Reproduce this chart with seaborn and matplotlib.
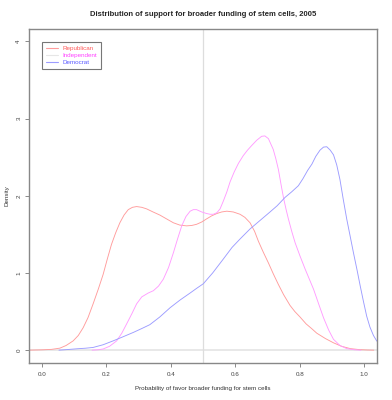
import matplotlib
matplotlib.use("Agg")
import matplotlib.pyplot as plt
import seaborn as sns
import pandas as pd

rep_x = [-0.04, 0.0, 0.03, 0.056, 0.075, 0.097, 0.113, 0.128, 0.143, 0.159, 0.175, 0.19, 0.203,
         0.216, 0.229, 0.242, 0.255, 0.268, 0.281, 0.294, 0.31, 0.325, 0.345, 0.366, 0.387, 0.408,
         0.428, 0.449, 0.465, 0.48, 0.496, 0.511, 0.527, 0.543, 0.558, 0.574, 0.594, 0.615, 0.63,
         0.646, 0.66, 0.672, 0.687, 0.703, 0.718, 0.734, 0.75, 0.77, 0.785, 0.801, 0.82, 0.837,
         0.853, 0.88, 0.905, 0.93, 0.957, 0.985, 1.01, 1.03]
rep_y = [0, 0.004, 0.01, 0.026, 0.06, 0.12, 0.19, 0.29, 0.42, 0.60, 0.79, 0.98, 1.18,
         1.37, 1.52, 1.65, 1.75, 1.82, 1.85, 1.86, 1.85, 1.83, 1.79, 1.75, 1.70, 1.65,
         1.62, 1.61, 1.615, 1.63, 1.66, 1.70, 1.74, 1.77, 1.79, 1.80, 1.79, 1.76, 1.72,
         1.65, 1.54, 1.41, 1.27, 1.13, 0.99, 0.85, 0.72, 0.58, 0.50, 0.43, 0.34, 0.28,
         0.22, 0.15, 0.095, 0.05, 0.02, 0.007, 0.002, 0]

ind_x = [0.156, 0.175, 0.19, 0.21, 0.232, 0.248, 0.263, 0.279, 0.294, 0.31, 0.33, 0.346, 0.362,
         0.377, 0.393, 0.408, 0.421, 0.434, 0.447, 0.46, 0.47, 0.48, 0.496, 0.511, 0.522, 0.532,
         0.543, 0.553, 0.563, 0.574, 0.584, 0.597, 0.61, 0.625, 0.638, 0.651, 0.667, 0.682, 0.692,
         0.703, 0.718, 0.726, 0.734, 0.742, 0.75, 0.758, 0.765, 0.776, 0.786, 0.801, 0.817, 0.83,
         0.843, 0.858, 0.874, 0.89, 0.905, 0.925, 0.946, 0.97, 0.99]
ind_y = [0, 0.005, 0.015, 0.05, 0.12, 0.22, 0.34, 0.47, 0.60, 0.69, 0.74, 0.77, 0.83,
         0.92, 1.07, 1.26, 1.44, 1.61, 1.73, 1.80, 1.82, 1.82, 1.79, 1.77, 1.76, 1.76,
         1.78, 1.83, 1.93, 2.05, 2.18, 2.31, 2.42, 2.52, 2.59, 2.65, 2.72, 2.77, 2.775,
         2.74, 2.60, 2.48, 2.34, 2.15, 1.97, 1.82, 1.70, 1.53, 1.39, 1.22, 1.05, 0.92,
         0.79, 0.61, 0.42, 0.26, 0.14, 0.06, 0.02, 0.005, 0]

dem_x = [0.053, 0.08, 0.11, 0.135, 0.159, 0.19, 0.221, 0.25, 0.284, 0.31, 0.335, 0.366, 0.398,
         0.429, 0.46, 0.48, 0.501, 0.53, 0.563, 0.59, 0.615, 0.646, 0.677, 0.708, 0.73, 0.755,
         0.775, 0.796, 0.81, 0.825, 0.838, 0.85, 0.863, 0.874, 0.884, 0.895, 0.905, 0.915, 0.925,
         0.935, 0.946, 0.957, 0.967, 0.978, 0.988, 0.998, 1.008, 1.018, 1.029, 1.039, 1.05]
dem_y = [0, 0.008, 0.018, 0.025, 0.035, 0.07, 0.12, 0.17, 0.23, 0.28, 0.33, 0.43, 0.55,
         0.65, 0.74, 0.80, 0.86, 1.00, 1.18, 1.33, 1.44, 1.57, 1.68, 1.79, 1.87, 1.98,
         2.05, 2.13, 2.22, 2.33, 2.41, 2.51, 2.59, 2.63, 2.635, 2.59, 2.53, 2.40, 2.21,
         1.96, 1.70, 1.47, 1.26, 1.04, 0.83, 0.63, 0.44, 0.30, 0.19, 0.12, 0.08]

series_names = ["Republican", "Independent", "Democrat"]
x_ticks = [0.0, 0.2, 0.4, 0.6, 0.8, 1.0]
x_tick_labels = ["0.0", "0.2", "0.4", "0.6", "0.8", "1.0"]
y_ticks = [0, 1, 2, 3, 4]
y_tick_labels = ["0", "1", "2", "3", "4"]

line_colors = {"Republican": "#ff9c9c", "Independent": "#ff9cff", "Democrat": "#9c9cff"}
text_colors = {"Republican": "#ff5a5a", "Independent": "#ff40ff", "Democrat": "#5a5aff"}

frames = []
for name, xs, ys in zip(series_names, [rep_x, ind_x, dem_x], [rep_y, ind_y, dem_y]):
    frames.append(pd.DataFrame({"x": xs, "y": ys, "party": name}))
df = pd.concat(frames, ignore_index=True)

sns.set_style("white")
plt.rcParams["font.family"] = ["Liberation Sans", "DejaVu Sans"]

fig = plt.figure(figsize=(3.92, 4.0), dpi=100)
ax = fig.add_axes([29 / 392, 1 - 362.5 / 400, 348 / 392, 333.5 / 400])

ax.axhline(0, color="#e4e4e4", lw=1.2, zorder=0)
ax.axvline(0.5, color="#dddddd", lw=0.9, zorder=0)

sns.lineplot(data=df, x="x", y="y", hue="party", hue_order=series_names,
             palette=line_colors, sort=False, estimator=None, lw=0.65, ax=ax, legend=True)

ax.set_xlim(-0.04, 1.04)
ax.set_ylim(-0.16, 4.16)
ax.set_xticks(x_ticks)
ax.set_xticklabels(x_tick_labels)
ax.set_yticks(y_ticks)
ax.set_yticklabels(y_tick_labels, rotation=90, va="center")
ax.tick_params(axis="both", direction="out", length=3, width=0.6, color="#777777",
               labelsize=4.5, labelcolor="#444444", left=True, bottom=True)
ax.tick_params(axis="y", pad=2.5)
ax.tick_params(axis="x", pad=4)

for s in ax.spines.values():
    s.set_color("#888888")
    s.set_linewidth(1.0)

ax.set_xlabel("Probability of favor broader funding for stem cells", fontsize=4.5,
              color="#333333", labelpad=6)
ax.set_ylabel("Density", fontsize=4.5, color="#333333", labelpad=5)
ax.set_title("Distribution of support for broader funding of stem cells, 2005",
             fontsize=5.5, fontweight="bold", pad=9)

leg = ax.legend(loc="upper left", bbox_to_anchor=(0.038, 0.96), fontsize=4.5,
                frameon=True, fancybox=False, handlelength=2.0, handletextpad=0.7,
                labelspacing=0.25, borderpad=0.6, borderaxespad=0)
leg.get_frame().set_edgecolor("#555555")
leg.get_frame().set_linewidth(0.8)
for line, txt in zip(leg.get_lines(), leg.get_texts()):
    name = txt.get_text()
    txt.set_color(text_colors[name])
    if name == "Independent":
        line.set_color("#e6e6e6")
    line.set_linewidth(0.8)

fig.savefig("out.png", dpi=100)
